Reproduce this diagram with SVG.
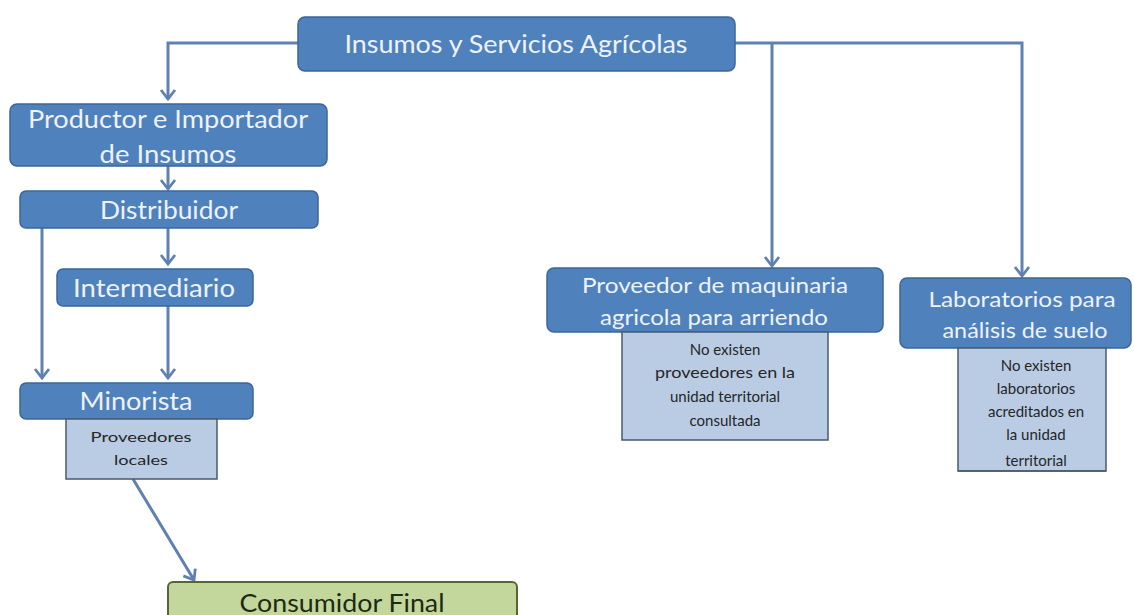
<svg xmlns="http://www.w3.org/2000/svg" width="1134" height="615" viewBox="0 0 1134 615">
<defs>
<style>
.blue{fill:#4f81bd;stroke:#3b6698;stroke-width:1.5}
.note{fill:#b9cce4;stroke:#4a5a6c;stroke-width:1.5}
.green{fill:#c3d69b;stroke:#56662e;stroke-width:2}
.tw{font-family:Lato,"Open Sans","Liberation Sans",sans-serif;fill:#eef3fb;text-anchor:middle}
.td{font-family:Lato,"Open Sans","Liberation Sans",sans-serif;fill:#262626;text-anchor:middle}
.tg{font-family:Lato,"Open Sans","Liberation Sans",sans-serif;fill:#1f2a12;text-anchor:middle}
.con{fill:none;stroke:#5e80b2;stroke-width:3;marker-end:url(#arr)}
</style>
<marker id="arr" markerUnits="userSpaceOnUse" viewBox="-12 -9 14 18" refX="0" refY="0" markerWidth="14" markerHeight="18" orient="auto">
<path d="M-9,-7 L0,0 L-9,7" fill="none" stroke="#5e80b2" stroke-width="2.8"/>
</marker>
</defs>
<rect width="1134" height="615" fill="#ffffff"/>
<g id="connectors">
<path class="con" d="M298,43 H168 V99"/>
<path class="con" d="M168,166 V189"/>
<path class="con" d="M42,228 V378"/>
<path class="con" d="M168,228 V264"/>
<path class="con" d="M168,306 V378"/>
<path class="con" d="M735,43 H1022 V276"/>
<path class="con" d="M772,43 V266"/>
<path class="con" d="M133,479 L194,580"/>
</g>
<g id="insumos">
<rect class="blue" x="298" y="17" width="437" height="54" rx="7"/>
<text class="tw" x="516" y="53" font-size="25" textLength="343" lengthAdjust="spacingAndGlyphs">Insumos y Servicios Agrícolas</text>
</g>
<g id="productor">
<rect class="blue" x="10" y="104" width="317" height="62" rx="7"/>
<text class="tw" x="168" y="128" font-size="25" textLength="280" lengthAdjust="spacingAndGlyphs">Productor e Importador</text>
<text class="tw" x="168" y="163" font-size="25" textLength="137" lengthAdjust="spacingAndGlyphs">de Insumos</text>
</g>
<g id="distribuidor">
<rect class="blue" x="20" y="191" width="298" height="37" rx="6"/>
<text class="tw" x="169" y="219" font-size="25" textLength="138" lengthAdjust="spacingAndGlyphs">Distribuidor</text>
</g>
<g id="intermediario">
<rect class="blue" x="57" y="269" width="196" height="37" rx="6"/>
<text class="tw" x="154" y="297" font-size="25" textLength="162" lengthAdjust="spacingAndGlyphs">Intermediario</text>
</g>
<g id="minorista">
<rect class="blue" x="20" y="383" width="233" height="36" rx="6"/>
<text class="tw" x="136" y="410" font-size="25" textLength="113" lengthAdjust="spacingAndGlyphs">Minorista</text>
</g>
<g id="proveedores-locales">
<rect class="note" x="66" y="419" width="151" height="60"/>
<text class="td" x="141" y="442" font-size="14" textLength="101" lengthAdjust="spacingAndGlyphs">Proveedores</text>
<text class="td" x="141" y="465" font-size="14" textLength="54" lengthAdjust="spacingAndGlyphs">locales</text>
</g>
<g id="consumidor">
<rect class="green" x="168" y="582" width="349" height="45" rx="5"/>
<text class="tg" x="342" y="612" font-size="25" textLength="205" lengthAdjust="spacingAndGlyphs">Consumidor Final</text>
</g>
<g id="maquinaria">
<rect class="blue" x="547" y="268" width="336" height="64" rx="7"/>
<text class="tw" x="715" y="293" font-size="22" textLength="266" lengthAdjust="spacingAndGlyphs">Proveedor de maquinaria</text>
<text class="tw" x="714" y="325" font-size="22" textLength="228" lengthAdjust="spacingAndGlyphs">agricola para arriendo</text>
</g>
<g id="nota-maquinaria">
<rect class="note" x="622" y="332" width="206" height="108"/>
<text class="td" x="725" y="355" font-size="15">No existen</text>
<text class="td" x="725" y="378" font-size="15" textLength="140" lengthAdjust="spacingAndGlyphs">proveedores en la</text>
<text class="td" x="725" y="402" font-size="15">unidad territorial</text>
<text class="td" x="725" y="426" font-size="15">consultada</text>
</g>
<g id="laboratorios">
<rect class="blue" x="900" y="278" width="231" height="70" rx="7"/>
<text class="tw" x="1022" y="307" font-size="22" textLength="187" lengthAdjust="spacingAndGlyphs">Laboratorios para</text>
<text class="tw" x="1025" y="338" font-size="22" textLength="165" lengthAdjust="spacingAndGlyphs">análisis de suelo</text>
</g>
<g id="nota-laboratorios">
<rect class="note" x="958" y="348" width="148" height="123"/>
<text class="td" x="1036" y="371" font-size="15">No existen</text>
<text class="td" x="1036" y="394" font-size="15">laboratorios</text>
<text class="td" x="1036" y="417" font-size="15">acreditados en</text>
<text class="td" x="1036" y="440" font-size="15">la unidad</text>
<text class="td" x="1036" y="466" font-size="15">territorial</text>
<line x1="958" y1="471" x2="1106" y2="471" stroke="#4a5a6c" stroke-width="1.5"/>
</g>
</svg>
